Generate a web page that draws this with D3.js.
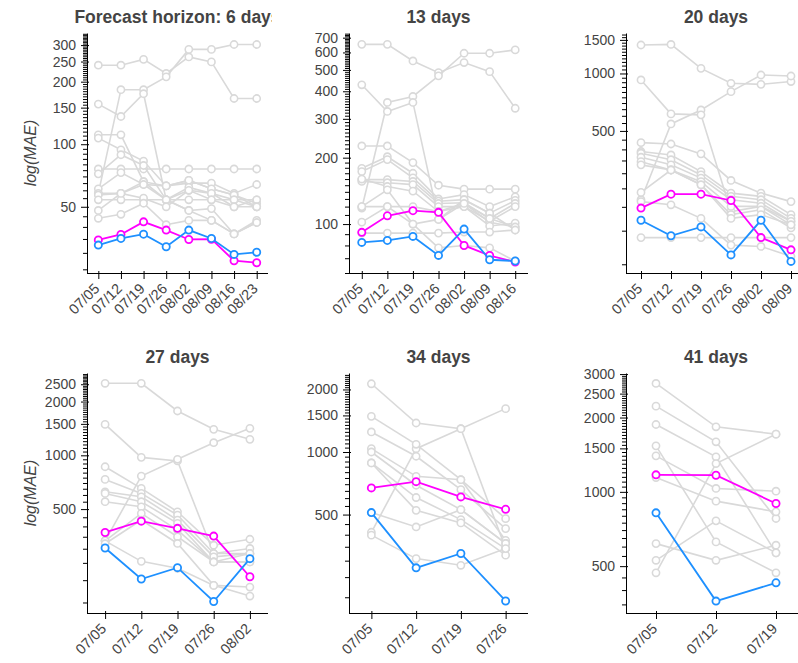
<!DOCTYPE html>
<html>
<head>
<meta charset="utf-8">
<script src="https://cdn.jsdelivr.net/npm/d3@7"></script>
<style>
    body { margin: 0; background: #fff; }
    text { font-family: "Liberation Sans", Arial, Helvetica, sans-serif; }
</style>
</head>
<body>
<svg id="chart" width="798" height="663"></svg>
<script>
const dates = ["07/05", "07/12", "07/19", "07/26", "08/02", "08/09", "08/16", "08/23"]
const horizons = [6, 13, 20, 27, 34, 41]

// 6 days
const gray6 = [
    [240, 240, 256, 219, 263, 249, 166, 166],
    [58, 183, 183, 211, 286, 286, 302, 302],
    [156, 136, 175, 54, 48, 49, 37, 42],
    [111, 111, 66, 54, 48, 43, 37, 43],
    [107, 94, 83, 63, 67, 61, 57, 50],
    [76, 76, 76, 76, 76, 76, 76, 76],
    [72, 89, 79, 54, 60, 58, 50, 54],
    [61, 73, 64, 63, 65, 65, 58, 64],
    [58, 58, 66, 63, 67, 61, 57, 52],
    [57, 58, 64, 54, 62, 58, 54, 50],
    [54, 54, 54, 54, 54, 54, 54, 54],
    [48, 58, 55, 50, 60, 54, 50, 50],
    [44, 46, 52, 41, 43, 43, 37, 42]
]
const magenta6 = [34.6, 36.8, 42.3, 38.6, 34.8, 34.9, 27.5, 26.9]
const blue6 = [32.7, 35.2, 36.9, 32.1, 38.6, 35.2, 29.5, 30.2]
const ticks6 = [50, 100, 150, 200, 250, 300]
const domain6 = [24, 343]

// 13 days
const gray13 = [
    [653, 653, 549, 486, 540, 491, 335],
    [118, 356, 379, 470, 595, 595, 616],
    [428, 324, 356, 105, 124, 102, 97],
    [226, 226, 190, 150, 144, 144, 144],
    [179, 202, 170, 130, 136, 120, 133],
    [173, 196, 162, 127, 129, 112, 128],
    [159, 159, 156, 124, 125, 106, 124],
    [156, 154, 151, 120, 120, 103, 120],
    [160, 148, 141, 114, 120, 98, 101],
    [120, 143, 100, 105, 129, 112, 94],
    [102, 120, 120, 114, 124, 106, 97],
    [91, 91, 91, 91, 92, 92, 94],
    [120, 120, 100, 78, 80, 78, 68]
]
const magenta13 = [91.7, 109, 115, 113, 80, 72, 67.3]
const blue13 = [82.6, 84.3, 87.9, 72.1, 94.9, 68.9, 68]
const ticks13 = [100, 200, 300, 400, 500, 600, 700]
const domain13 = [60, 735]

// 20 days
const gray20 = [
    [1410, 1420, 1064, 888, 877, 907],
    [218, 544, 644, 803, 982, 970],
    [925, 614, 607, 189, 201, 168],
    [434, 427, 379, 275, 236, 213],
    [390, 374, 306, 236, 227, 182],
    [382, 353, 294, 227, 218, 174],
    [364, 332, 283, 218, 209, 168],
    [345, 312, 271, 201, 201, 161],
    [332, 312, 261, 182, 193, 155],
    [238, 312, 261, 174, 182, 161],
    [138, 138, 138, 138, 138, 138],
    [213, 205, 174, 126, 124, 110]
]
const magenta20 = [197, 233, 233, 216, 138, 119]
const blue20 = [170, 141, 157, 112, 170, 103.5]
const ticks20 = [500, 1000, 1500]
const domain20 = [90, 1630]

// 27 days
const gray27 = [
    [2530, 2530, 1771, 1398, 1229],
    [1490, 974, 930, 282, 282],
    [332, 765, 950, 1177, 1416],
    [863, 653, 483, 314, 339],
    [733, 612, 463, 282, 301],
    [625, 586, 434, 270, 282],
    [612, 550, 416, 253, 253],
    [550, 515, 381, 253, 253],
    [332, 473, 350, 253, 282],
    [332, 255, 233, 187, 183],
    [320, 434, 321, 187, 163]
]
const magenta27 = [370, 428, 390, 353, 209]
const blue27 = [303, 203, 235, 152, 264]
const ticks27 = [500, 1000, 1500, 2000, 2500]
const domain27 = [131, 2890]

// 34 days
const gray34 = [
    [2130, 1379, 1295, 343],
    [411, 1038, 1295, 1617],
    [1485, 1089, 736, 478],
    [1249, 954, 659, 428],
    [1038, 764, 736, 376],
    [1000, 692, 528, 363],
    [886, 604, 473, 343],
    [886, 524, 456, 319],
    [511, 436, 528, 363],
    [398, 307, 285, 343]
]
const magenta34 = [672, 720, 608, 530]
const blue34 = [511, 277, 325, 192]
const ticks34 = [500, 1000, 1500, 2000]
const domain34 = [168, 2400]

// 41 days
const gray41 = [
    [2748, 1834, 1713],
    [2224, 1595, 780],
    [1874, 1386, 566],
    [1536, 627, 470],
    [1399, 1032, 1006],
    [1143, 917, 830],
    [617, 528, 608],
    [528, 763, 566],
    [470, 1302, 1713]
]
const magenta41 = [1172, 1168, 897]
const blue41 = [822, 361, 428]
const ticks41 = [500, 1000, 1500, 2000, 2500, 3000]
const domain41 = [323, 3030]

const panels = [
    { gray: gray6, magenta: magenta6, blue: blue6, ticks: ticks6, domain: domain6, minorStep: 5 },
    { gray: gray13, magenta: magenta13, blue: blue13, ticks: ticks13, domain: domain13, minorStep: 10 },
    { gray: gray20, magenta: magenta20, blue: blue20, ticks: ticks20, domain: domain20, minorStep: 50 },
    { gray: gray27, magenta: magenta27, blue: blue27, ticks: ticks27, domain: domain27, minorStep: 50 },
    { gray: gray34, magenta: magenta34, blue: blue34, ticks: ticks34, domain: domain34, minorStep: 50 },
    { gray: gray41, magenta: magenta41, blue: blue41, ticks: ticks41, domain: domain41, minorStep: 50 }
]

const colLeft = [87, 349, 626]
const colWidth = [181, 179, 180]
const rowTop = [33, 373]
const height = 240
const textColor = "#444"

const svg = d3.select("#chart")

panels.forEach((p, i) => {
    const col = i % 3
    const row = Math.floor(i / 3)
    const w = colWidth[col]
    const n = p.blue.length
    const cats = dates.slice(0, n)

    const x = d3.scalePoint().domain(cats).range([0, w]).padding(0.5)
    const y = d3.scaleLog().domain(p.domain).range([height, 0])

    const g = svg.append("g")
        .attr("transform", "translate(" + colLeft[col] + "," + rowTop[row] + ")")

    // title (the first one is cut at its plot's right edge)
    const title = i === 0 ? "Forecast horizon: " + horizons[i] + " days" : horizons[i] + " days"
    if (i === 0) {
        svg.append("clipPath").attr("id", "titleClip")
            .append("rect").attr("x", -colLeft[0]).attr("y", -40).attr("width", 272).attr("height", 40)
    }
    g.append("text")
        .attr("x", w / 2)
        .attr("y", -10)
        .attr("text-anchor", "middle")
        .attr("clip-path", i === 0 ? "url(#titleClip)" : null)
        .style("font-size", "17.5px")
        .style("font-weight", "bold")
        .style("fill", textColor)
        .text(title)

    if (col === 0) {
        g.append("text")
            .attr("transform", "translate(" + (30 - colLeft[0]) + "," + (height / 2) + ") rotate(-90)")
            .attr("text-anchor", "middle")
            .attr("dy", "0.35em")
            .style("font-size", "16px")
            .style("font-style", "italic")
            .style("fill", textColor)
            .text("log(MAE)")
    }

    // y axis: minor ticks, inner major ticks, then labelled major ticks
    const minor = d3.range(Math.ceil(p.domain[0] / p.minorStep) * p.minorStep, p.domain[1], p.minorStep)
        .filter(v => !p.ticks.includes(v))

    g.append("g")
        .call(d3.axisLeft(y).tickValues(minor).tickSize(4).tickFormat(""))
        .call(s => s.select(".domain").remove())
    g.append("g")
        .call(d3.axisLeft(y).tickValues(p.ticks).tickSize(-2).tickFormat(""))
        .call(s => s.select(".domain").remove())
    g.append("g")
        .call(d3.axisLeft(y).tickValues(p.ticks).tickSize(6).tickSizeOuter(0).tickPadding(5).tickFormat(d3.format("d")))
        .call(s => s.selectAll("text").style("font-size", "14px").style("fill", textColor).style("font-family", null))

    // x axis
    g.append("g")
        .attr("transform", "translate(0," + height + ")")
        .call(d3.axisBottom(x).tickSize(-2).tickFormat(""))
        .call(s => s.select(".domain").remove())
    g.append("g")
        .attr("transform", "translate(0," + height + ")")
        .call(d3.axisBottom(x).tickSize(6).tickSizeOuter(0))
        .call(s => s.select(".domain").attr("d", "M0,0.5H" + w))
        .call(s => s.selectAll("text")
            .attr("x", 0).attr("y", 0).attr("dy", "0.35em")
            .attr("transform", "translate(-2,13) rotate(-45)")
            .style("text-anchor", "end")
            .style("font-size", "14.5px")
            .style("fill", textColor)
            .style("font-family", null))

    const line = d3.line()
        .x((d, j) => x(cats[j]))
        .y(d => y(d))

    function drawSeries(values, color, lw) {
        g.append("path")
            .attr("d", line(values))
            .attr("fill", "none")
            .attr("stroke", color)
            .attr("stroke-width", lw)
        g.selectAll(null)
            .data(values)
            .enter()
            .append("circle")
            .attr("cx", (d, j) => x(cats[j]))
            .attr("cy", d => y(d))
            .attr("r", 3.6)
            .attr("fill", "white")
            .attr("stroke", color)
            .attr("stroke-width", lw)
    }

    p.gray.forEach(s => drawSeries(s, "#d9d9d9", 1.6))
    drawSeries(p.magenta, "#ff00ff", 1.8)
    drawSeries(p.blue, "#1e90ff", 1.8)
})
</script>
</body>
</html>
